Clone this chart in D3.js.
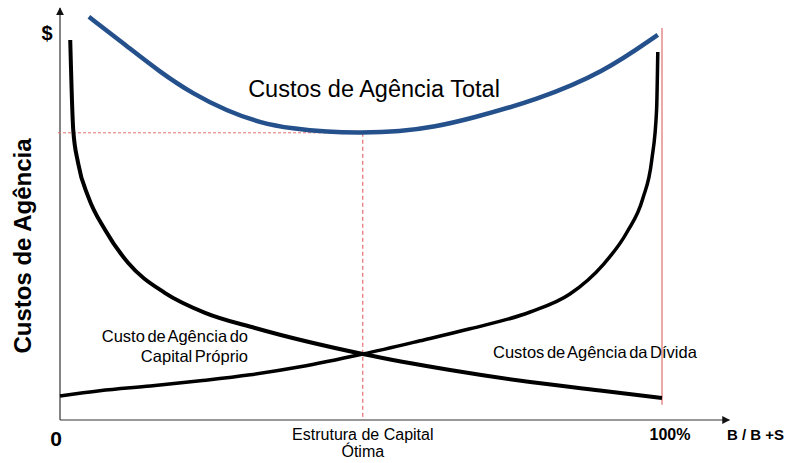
<!DOCTYPE html>
<html>
<head>
<meta charset="utf-8">
<script src="https://cdn.jsdelivr.net/npm/d3@7"></script>
<style>
  html, body { margin: 0; padding: 0; background: #fff; }
  svg { display: block; font-family: Arial, "Liberation Sans", sans-serif; }
</style>
</head>
<body>
<div id="plot"></div>
<script>
// B/(B+S) as a fraction, cost in arbitrary $ units
const equityX = [0.017, 0.022, 0.030, 0.047, 0.075, 0.113, 0.174, 0.241, 0.324, 0.503, 0.648, 0.781, 0.897, 1.0];
const equityY = [95, 72.5, 64.3, 55.8, 47.5, 39.3, 31.8, 26.8, 23, 16.5, 12.5, 9.5, 7.4, 5.5];

const debtX = [0, 0.066, 0.150, 0.233, 0.316, 0.399, 0.503, 0.598, 0.681, 0.781, 0.847, 0.902, 0.942, 0.968, 0.983, 0.991, 0.993];
const debtY = [6, 7.3, 8.5, 9.8, 11.3, 13.3, 16.5, 19.8, 22.8, 27, 31.5, 38.8, 47, 55.3, 65, 77.5, 92];

const totalX = [0.048, 0.111, 0.166, 0.221, 0.277, 0.332, 0.387, 0.444, 0.498, 0.565, 0.623, 0.681, 0.792, 0.902, 0.993];
const totalY = [100.8, 93.5, 87, 81.5, 77.3, 74.3, 72.8, 72, 71.8, 72.1, 73.3, 75.3, 80, 86.8, 96.3];

const optimum = { x: 0.503, y: 71.8 };

const labels = {
  total: 'Custos de Agência Total',
  equity: ['Custo de Agência do', 'Capital Próprio'],
  debt: 'Custos de Agência da Dívida',
  optimum: ['Estrutura de Capital', 'Ótima'],
  yAxis: 'Custos de Agência',
  xAxis: 'B / B +S',
  dollar: '$',
  zero: '0',
  full: '100%'
};

const W = 789, H = 463;
const svg = d3.select('#plot').append('svg')
  .attr('width', W).attr('height', H);

const x = d3.scaleLinear().domain([0, 1]).range([60, 662]);
const y = d3.scaleLinear().domain([0, 100]).range([420, 20]);

var zip = function(xs, ys) {
  return xs.map(function(v, i) { return [v, ys[i]]; });
};

// arrow head
svg.append('defs').append('marker')
  .attr('id', 'arrow')
  .attr('viewBox', '0 0 10 10')
  .attr('refX', 9).attr('refY', 5)
  .attr('markerWidth', 8).attr('markerHeight', 8)
  .attr('markerUnits', 'userSpaceOnUse')
  .attr('orient', 'auto')
  .append('path')
  .attr('d', 'M0,0 L10,5 L0,10 Z')
  .attr('fill', '#111');

/* axes */
svg.append('line')
  .attr('x1', x(0)).attr('y1', y(0))
  .attr('x2', x(1.112)).attr('y2', y(0))
  .attr('stroke', '#333').attr('stroke-width', 1.2)
  .attr('marker-end', 'url(#arrow)');
svg.append('line')
  .attr('x1', x(0)).attr('y1', y(0))
  .attr('x2', x(0)).attr('y2', y(103))
  .attr('stroke', '#333').attr('stroke-width', 1.2)
  .attr('marker-end', 'url(#arrow)');

/* reference lines */
svg.append('line')
  .attr('x1', x(1)).attr('y1', y(98))
  .attr('x2', x(1)).attr('y2', y(3.8))
  .attr('stroke', '#d9534f').attr('stroke-width', 1);
svg.append('line')
  .attr('x1', x(0) - 2).attr('y1', y(optimum.y))
  .attr('x2', x(optimum.x)).attr('y2', y(optimum.y))
  .attr('stroke', '#e57373').attr('stroke-width', 1)
  .attr('stroke-dasharray', '3,2');
svg.append('line')
  .attr('x1', x(optimum.x)).attr('y1', y(optimum.y))
  .attr('x2', x(optimum.x)).attr('y2', y(0))
  .attr('stroke', '#e05050').attr('stroke-width', 1)
  .attr('stroke-dasharray', '4,3');

/* curves */
var line = d3.line()
  .x(function(d) { return x(d[0]); })
  .y(function(d) { return y(d[1]); })
  .curve(d3.curveMonotoneX);
var smooth = d3.line()
  .x(function(d) { return x(d[0]); })
  .y(function(d) { return y(d[1]); })
  .curve(d3.curveBasis);

svg.append('path').datum(zip(equityX, equityY))
  .attr('d', line).attr('fill', 'none')
  .attr('stroke', '#000').attr('stroke-width', 4);
svg.append('path').datum(zip(debtX, debtY))
  .attr('d', line).attr('fill', 'none')
  .attr('stroke', '#000').attr('stroke-width', 3.5);
svg.append('path').datum(zip(totalX, totalY))
  .attr('d', smooth).attr('fill', 'none')
  .attr('stroke', '#24508c').attr('stroke-width', 4.5);

/* texts */
svg.append('text')
  .attr('x', 374).attr('y', 97)
  .attr('text-anchor', 'middle')
  .attr('font-size', 23.5)
  .text(labels.total);

svg.selectAll('text.eq').data(labels.equity).enter().append('text')
  .attr('class', 'eq')
  .attr('x', 248).attr('y', function(d, i) { return 342 + i * 20; })
  .attr('text-anchor', 'end')
  .attr('font-size', 16.5)
  .attr('word-spacing', -2)
  .text(function(d) { return d; });

svg.append('text')
  .attr('x', 493).attr('y', 358)
  .attr('font-size', 16.5)
  .attr('word-spacing', -2)
  .text(labels.debt);

svg.selectAll('text.opt').data(labels.optimum).enter().append('text')
  .attr('class', 'opt')
  .attr('x', x(optimum.x)).attr('y', function(d, i) { return 440 + i * 17; })
  .attr('text-anchor', 'middle')
  .attr('font-size', 16)
  .text(function(d) { return d; });

svg.append('text')
  .attr('transform', 'translate(31,246) rotate(-90)')
  .attr('text-anchor', 'middle')
  .attr('font-size', 24).attr('font-weight', 'bold')
  .text(labels.yAxis);

svg.append('text')
  .attr('x', 47).attr('y', 40)
  .attr('text-anchor', 'middle')
  .attr('font-size', 20).attr('font-weight', 'bold')
  .text(labels.dollar);

svg.append('text')
  .attr('x', x(0) - 4).attr('y', 446)
  .attr('text-anchor', 'middle')
  .attr('font-size', 21).attr('font-weight', 'bold')
  .text(labels.zero);

svg.append('text')
  .attr('x', x(1) + 8).attr('y', 440)
  .attr('text-anchor', 'middle')
  .attr('font-size', 16).attr('font-weight', 'bold')
  .text(labels.full);

svg.append('text')
  .attr('x', 727).attr('y', 440)
  .attr('font-size', 15).attr('font-weight', 'bold')
  .text(labels.xAxis);
</script>
</body>
</html>
